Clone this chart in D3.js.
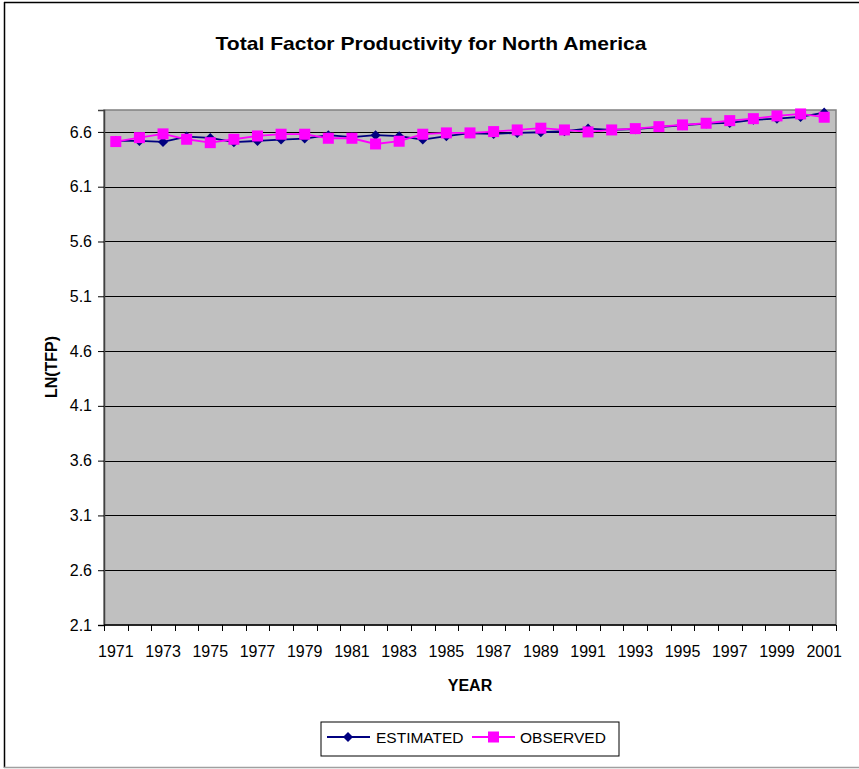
<!DOCTYPE html>
<html>
<head>
<meta charset="utf-8">
<script src="https://cdn.jsdelivr.net/npm/d3@7"></script>
<style>
  html, body { margin: 0; padding: 0; background: #fff; }
  svg { display: block; }
  text { font-family: Arial, "Liberation Sans", sans-serif; }
</style>
</head>
<body>
<svg id="chart" width="859" height="769"></svg>
<script>
const years = d3.range(1971, 2002);
const estimated = [6.518, 6.518, 6.509, 6.557, 6.545, 6.506, 6.518, 6.530, 6.539, 6.570,
                   6.552, 6.570, 6.561, 6.530, 6.561, 6.588, 6.582, 6.591, 6.597, 6.606,
                   6.630, 6.618, 6.625, 6.643, 6.661, 6.676, 6.682, 6.710, 6.721, 6.737,
                   6.776];
const observed = [6.512, 6.548, 6.582, 6.533, 6.502, 6.533, 6.563, 6.579, 6.579, 6.542,
                  6.542, 6.490, 6.515, 6.579, 6.591, 6.591, 6.603, 6.618, 6.634, 6.618,
                  6.600, 6.618, 6.630, 6.648, 6.664, 6.679, 6.703, 6.721, 6.746, 6.764,
                  6.734];
const yTicks = [2.1, 2.6, 3.1, 3.6, 4.1, 4.6, 5.1, 5.6, 6.1, 6.6];
const xTickLabels = years.filter((d, i) => i % 2 === 0);
const titleText = "Total Factor Productivity for North America";
const xAxisTitle = "YEAR";
const yAxisTitle = "LN(TFP)";
const seriesNames = ["ESTIMATED", "OBSERVED"];

const svg = d3.select("#chart");
const L = 104, R = 836, T = 110, B = 625;

// outer frame
svg.append("line").attr("x1", 4).attr("x2", 859).attr("y1", 2.5).attr("y2", 2.5)
  .attr("stroke", "#000").attr("stroke-width", 1.5);
svg.append("line").attr("x1", 4.5).attr("x2", 4.5).attr("y1", 2).attr("y2", 768)
  .attr("stroke", "#000").attr("stroke-width", 1.5);
svg.append("line").attr("x1", 4).attr("x2", 859).attr("y1", 767.5).attr("y2", 767.5)
  .attr("stroke", "#a0a0a0").attr("stroke-width", 1.5);

const x = d3.scaleBand().domain(years).range([L, R]).padding(0);
const y = d3.scaleLinear().domain([2.1, 6.8]).range([B, T]);
const cx = d => x(d) + x.bandwidth() / 2;

// plot area
svg.append("rect").attr("x", L).attr("y", T).attr("width", R - L).attr("height", B - T)
  .attr("fill", "#c0c0c0").attr("stroke", "#808080").attr("stroke-width", 1.5);

// gridlines
svg.append("g").selectAll("line").data(yTicks.slice(1)).join("line")
  .attr("x1", L).attr("x2", R)
  .attr("y1", d => Math.round(y(d)) + 0.5).attr("y2", d => Math.round(y(d)) + 0.5)
  .attr("stroke", "#000").attr("stroke-width", 1);

// y axis
const yAxis = d3.axisLeft(y).tickValues(yTicks).tickFormat(d3.format(".1f")).tickSize(6).tickPadding(6);
const gy = svg.append("g").attr("transform", `translate(${L},0)`).call(yAxis);
gy.select(".domain").attr("stroke", "#404040").attr("stroke-width", 1.5);
gy.selectAll(".tick line").attr("stroke", "#000");
gy.selectAll(".tick text").attr("font-size", 16).attr("fill", "#000")
  .attr("font-family", "Arial, 'Liberation Sans', sans-serif");

// x axis
const xBoundary = d3.scaleLinear().domain([0, years.length]).range([L, R]);
const gx = svg.append("g").attr("transform", `translate(0,${B})`);
gx.append("line").attr("x1", L).attr("x2", R).attr("y1", 0).attr("y2", 0)
  .attr("stroke", "#000").attr("stroke-width", 1.5);
gx.selectAll("line.tk").data(d3.range(years.length + 1)).join("line").attr("class", "tk")
  .attr("x1", d => Math.round(xBoundary(d)) + 0.5).attr("x2", d => Math.round(xBoundary(d)) + 0.5)
  .attr("y1", 0).attr("y2", 6).attr("stroke", "#000");
gx.selectAll("text").data(xTickLabels).join("text")
  .attr("x", d => cx(d)).attr("y", 32).attr("text-anchor", "middle")
  .attr("font-size", 16).attr("fill", "#000").text(d => d);

// lines
const line = d3.line().x((d, i) => cx(years[i])).y(d => y(d));
const diamond = d3.symbol(d3.symbolDiamond2 || d3.symbolDiamond, 64)();
svg.append("path").datum(estimated).attr("d", line).attr("fill", "none")
  .attr("stroke", "#000080").attr("stroke-width", 1.8);
svg.append("g").selectAll("path").data(estimated).join("path")
  .attr("d", diamond)
  .attr("transform", (d, i) => `translate(${cx(years[i])},${y(d)})`)
  .attr("fill", "#000080");
svg.append("path").datum(observed).attr("d", line).attr("fill", "none")
  .attr("stroke", "#ff00ff").attr("stroke-width", 1.8);
svg.append("g").selectAll("rect").data(observed).join("rect")
  .attr("x", (d, i) => cx(years[i]) - 5.5).attr("y", d => y(d) - 5.5)
  .attr("width", 11).attr("height", 11).attr("fill", "#ff00ff");

// titles
svg.append("text").attr("x", 431).attr("y", 50).attr("text-anchor", "middle")
  .attr("font-size", 19).attr("font-weight", "bold")
  .attr("textLength", 431).attr("lengthAdjust", "spacingAndGlyphs").text(titleText);
svg.append("text").attr("x", 470).attr("y", 691).attr("text-anchor", "middle")
  .attr("font-size", 16).attr("font-weight", "bold").text(xAxisTitle);
svg.append("text").attr("transform", "translate(57,367) rotate(-90)").attr("text-anchor", "middle")
  .attr("font-size", 16).attr("font-weight", "bold").text(yAxisTitle);

// legend
const lg = svg.append("g");
lg.append("rect").attr("x", 321).attr("y", 722).attr("width", 298).attr("height", 34)
  .attr("fill", "#fff").attr("stroke", "#000").attr("stroke-width", 1);
lg.append("line").attr("x1", 327).attr("x2", 370).attr("y1", 737).attr("y2", 737)
  .attr("stroke", "#000080").attr("stroke-width", 1.8);
lg.append("path").attr("d", diamond)
  .attr("transform", "translate(348,737)").attr("fill", "#000080");
lg.append("text").attr("x", 376).attr("y", 743).attr("font-size", 15.5).text(seriesNames[0]);
lg.append("line").attr("x1", 472).attr("x2", 515).attr("y1", 737).attr("y2", 737)
  .attr("stroke", "#ff00ff").attr("stroke-width", 1.8);
lg.append("rect").attr("x", 488).attr("y", 731.5).attr("width", 11).attr("height", 11).attr("fill", "#ff00ff");
lg.append("text").attr("x", 520).attr("y", 743).attr("font-size", 15.5).text(seriesNames[1]);
</script>
</body>
</html>
